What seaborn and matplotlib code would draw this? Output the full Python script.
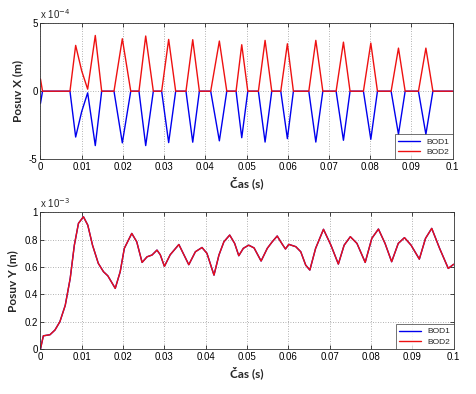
import matplotlib
matplotlib.use("Agg")
import matplotlib.pyplot as plt
import seaborn as sns
from matplotlib.ticker import FuncFormatter, FixedLocator

sns.set_style("ticks")
plt.rcParams['font.family'] = ['Liberation Sans', 'DejaVu Sans']

# --- Posuv X: cas (s) a posuv (m) ---
cas_x = [0, 0.0005,
         0.00716, 0.00854, 0.0100, 0.01145, 0.0133, 0.01485,
         0.01784, 0.01986, 0.0219,
         0.0239, 0.02553, 0.02738,
         0.0294, 0.0311, 0.0328,
         0.0353, 0.03694, 0.03855,
         0.0413, 0.0434, 0.0452,
         0.04745, 0.04883, 0.0503,
         0.05287, 0.05449, 0.05611,
         0.0583, 0.0599, 0.06136,
         0.0651, 0.0668, 0.0685,
         0.07172, 0.0735, 0.0751,
         0.07835, 0.08014, 0.08175,
         0.08507, 0.08685, 0.08847,
         0.0917, 0.0935, 0.0952,
         0.1]
bod2_x = [0.9e-4, 0,
          0, 3.37e-4, 1.5e-4, 0.15e-4, 4.1e-4, 0,
          0, 3.86e-4, 0,
          0, 4.06e-4, 0,
          0, 3.81e-4, 0,
          0, 3.79e-4, 0,
          0, 3.69e-4, 0,
          0, 3.42e-4, 0,
          0, 3.74e-4, 0,
          0, 3.49e-4, 0,
          0, 3.74e-4, 0,
          0, 3.61e-4, 0,
          0, 3.54e-4, 0,
          0, 3.17e-4, 0,
          0, 3.17e-4, 0,
          0]
bod1_x = [-0.9e-4, 0,
          0, -3.37e-4, -1.5e-4, -0.12e-4, -4.0e-4, 0,
          0, -3.8e-4, 0,
          0, -4.0e-4, 0,
          0, -3.78e-4, 0,
          0, -3.75e-4, 0,
          0, -3.65e-4, 0,
          0, -3.42e-4, 0,
          0, -3.74e-4, 0,
          0, -3.49e-4, 0,
          0, -3.74e-4, 0,
          0, -3.61e-4, 0,
          0, -3.54e-4, 0,
          0, -3.17e-4, 0,
          0, -3.17e-4, 0,
          0]

# --- Posuv Y ---
cas_y = [0, 0.0007, 0.0023, 0.0035, 0.0047, 0.006, 0.0072, 0.0082, 0.0092,
         0.0104, 0.01145, 0.0126, 0.014, 0.01525, 0.0163, 0.0181, 0.0193,
         0.0203, 0.0221, 0.0233, 0.0246, 0.0258, 0.027, 0.0282, 0.029,
         0.030, 0.0314, 0.0335, 0.0359, 0.0375, 0.0391, 0.0403, 0.042,
         0.0432, 0.0444, 0.0458, 0.047, 0.048, 0.0491, 0.0504, 0.0517,
         0.0534, 0.0549, 0.0561, 0.0573, 0.0584, 0.0593, 0.0601, 0.0618,
         0.063, 0.0642, 0.0652, 0.0666, 0.0685, 0.0703, 0.0721, 0.0735,
         0.075, 0.0766, 0.0786, 0.0802, 0.0818, 0.0834, 0.085, 0.0866,
         0.0881, 0.0897, 0.0917, 0.0932, 0.0947, 0.0966, 0.0987, 0.1]
bod_y = [0.0, 0.097, 0.105, 0.139, 0.2, 0.32, 0.517, 0.76, 0.92,
         0.968, 0.907, 0.76, 0.627, 0.566, 0.536, 0.444, 0.566,
         0.737, 0.846, 0.785, 0.634, 0.675, 0.688, 0.724, 0.69,
         0.605, 0.69, 0.765, 0.617, 0.712, 0.743, 0.70, 0.541,
         0.688, 0.785, 0.834, 0.773, 0.683, 0.737, 0.76, 0.74,
         0.644, 0.737, 0.785, 0.827, 0.773, 0.732, 0.766, 0.749,
         0.712, 0.614, 0.578, 0.737, 0.876, 0.76, 0.622, 0.76,
         0.822, 0.773, 0.634, 0.81, 0.878, 0.773, 0.639, 0.773,
         0.815, 0.76, 0.658, 0.81, 0.883, 0.737, 0.59, 0.62]
bod1_y = [v * 1e-3 for v in bod_y]
bod2_y = [v * 1e-3 for v in bod_y]

x_ticks = [0, 0.01, 0.02, 0.03, 0.04, 0.05, 0.06, 0.07, 0.08, 0.09, 0.1]
x_labels = ["0", "0.01", "0.02", "0.03", "0.04", "0.05", "0.06", "0.07",
            "0.08", "0.09", "0.1"]

BLUE = "#0000ee"
RED = "#ee1111"
LABEL_FONT = dict(family=["Lato", "DejaVu Sans"], fontweight="bold", fontsize=8.5)

fig = plt.figure(figsize=(4.76, 3.94), dpi=100)
ax1 = fig.add_axes([0.085, 0.596, 0.866, 0.345])
ax2 = fig.add_axes([0.085, 0.114, 0.868, 0.347])


def style(ax, yticks, scale, ylabel, exp):
    ax.set_xlim(0, 0.1)
    ax.xaxis.set_major_locator(FixedLocator(x_ticks))
    ax.set_xticklabels(x_labels)
    ax.yaxis.set_major_locator(FixedLocator(yticks))
    ax.yaxis.set_major_formatter(FuncFormatter(lambda v, p: f"{v * scale:g}"))
    ax.grid(True, color="#999999", linestyle=(0, (1, 2)), linewidth=0.6)
    ax.tick_params(direction="in", length=3, width=0.5, labelsize=7,
                   top=True, right=True, pad=2, colors="black")
    for s in ax.spines.values():
        s.set_linewidth(0.6)
        s.set_color("#333333")
    ax.set_xlabel("Čas (s)", labelpad=3, **LABEL_FONT)
    ax.set_ylabel(ylabel, labelpad=4, **LABEL_FONT)
    ax.text(0.0, 1.02, r"x 10$^{" + exp + "}$", transform=ax.transAxes,
            fontsize=7, ha="left", va="bottom")
    leg = ax.legend(loc="lower right", fontsize=6, frameon=True,
                    fancybox=False, edgecolor="#333333", borderaxespad=0,
                    handlelength=2.6, borderpad=0.4, labelspacing=0.3)
    leg.get_frame().set_linewidth(0.6)


sns.lineplot(x=cas_x, y=bod1_x, ax=ax1, color=BLUE, linewidth=1.0, label="BOD1")
sns.lineplot(x=cas_x, y=bod2_x, ax=ax1, color=RED, linewidth=1.0, label="BOD2")
ax1.set_ylim(-5e-4, 5e-4)
style(ax1, [-5e-4, 0, 5e-4], 1e4, "Posuv X (m)", "-4")

sns.lineplot(x=cas_y, y=bod1_y, ax=ax2, color=BLUE, linewidth=1.0, label="BOD1")
sns.lineplot(x=cas_y, y=bod2_y, ax=ax2, color=RED, linewidth=1.0, label="BOD2")
ax2.set_ylim(0, 1e-3)
style(ax2, [0, 2e-4, 4e-4, 6e-4, 8e-4, 1e-3], 1e3, "Posuv Y (m)", "-3")

fig.savefig("out.png", dpi=100)
